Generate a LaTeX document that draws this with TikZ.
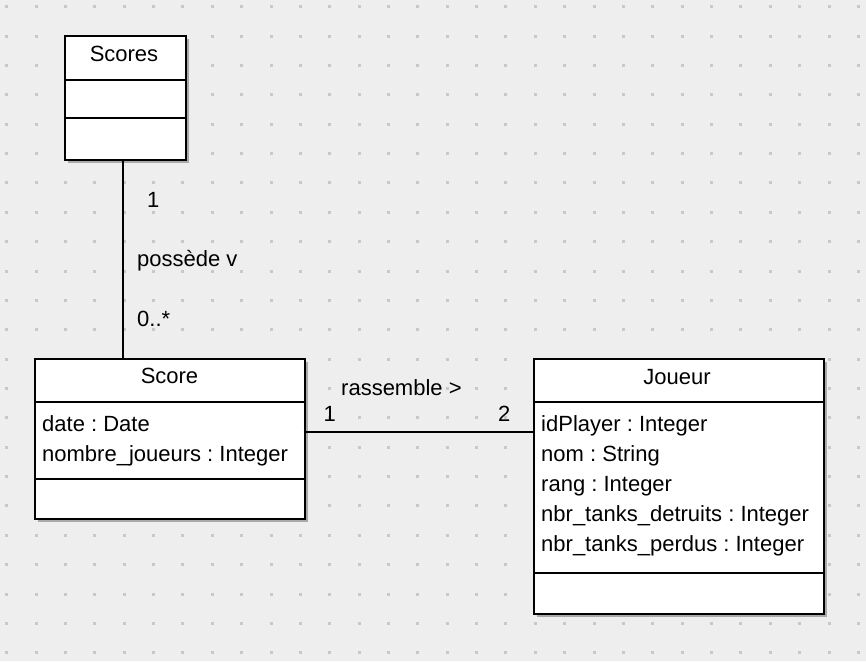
\documentclass[tikz,border=0pt]{standalone}
\usepackage{fontspec}
\setmainfont{Liberation Sans}
\usetikzlibrary{shadows}
\definecolor{bg}{HTML}{EEEEEE}
\definecolor{dotc}{HTML}{C8C8C8}
\frenchspacing
\begin{document}
\begin{tikzpicture}[x=1pt,y=-1pt,
  font=\fontsize{22}{26}\selectfont\frenchspacing,
  classbox/.style={draw=black, line width=2pt, fill=white, inner sep=0pt, anchor=north west,
    drop shadow={shadow xshift=3pt, shadow yshift=-3pt, fill=black!45, opacity=0.7}},
  sepline/.style={line width=2pt},
  txt/.style={inner sep=0pt, anchor=base west},
  ttl/.style={inner sep=0pt, anchor=base},
  conn/.style={line width=2pt},
]
\fill[bg] (0,0) rectangle (866,661);
\useasboundingbox (0,0) rectangle (866,661);
\foreach \i in {0,...,29} \foreach \j in {0,...,22}
  \fill[dotc] ({5.2+29.37*\i},{5.2+29.37*\j}) rectangle ++(3,3);

\node[classbox, minimum width=121pt, minimum height=124pt] (Scores) at (64,35) {};
\node[classbox, minimum width=270pt, minimum height=160pt] (Score) at (34,358) {};
\node[classbox, minimum width=290pt, minimum height=255pt] (Joueur) at (533,358) {};

% connectors
\draw[conn] ([xshift=-2.2pt]Scores.south) -- ([xshift=-2.2pt]Scores.south |- Score.north);
\coordinate (rs) at ([xshift=-2.5pt,yshift=7pt]Score.east);
\draw[conn] (rs) -- (rs -| Joueur.west);

% Scores
\draw[sepline] (Scores.west |- 0,80) -- (Scores.east |- 0,80);
\draw[sepline] (Scores.west |- 0,117.7) -- (Scores.east |- 0,117.7);
\node[ttl] (tScores) at (124,61) {Scores};

% Score
\draw[sepline] (Score.west |- 0,402.3) -- (Score.east |- 0,402.3);
\draw[sepline] (Score.west |- 0,479.3) -- (Score.east |- 0,479.3);
\node[ttl] (tScore) at (169.5,383) {Score};
\node[txt] (a1) at (42,431) {date : Date};
\node[txt] (a2) at (42,461) {nombre\_joueurs : Integer};

% Joueur
\draw[sepline] (Joueur.west |- 0,402.3) -- (Joueur.east |- 0,402.3);
\draw[sepline] (Joueur.west |- 0,572.7) -- (Joueur.east |- 0,572.7);
\node[ttl] (tJoueur) at (677,384) {Joueur};
\node[txt] (b1) at (541,431) {idPlayer : Integer};
\node[txt] (b2) at (541,461) {nom : String};
\node[txt] (b3) at (541,491) {rang : Integer};
\node[txt] (b4) at (541,521.5) {nbr\_tanks\_detruits : Integer};
\node[txt] (b5) at (541,551.5) {nbr\_tanks\_perdus : Integer};

% association labels
\node[txt] (m1) at (147,207.7) {1};
\node[txt] (l1) at (137,266.7) {possède v};
\node[txt] (m2) at (137,326) {0..*};
\node[txt] (l2) at (341,395) {rassemble >};
\node[txt] (m3) at (323.5,421.7) {1};
\node[txt] (m4) at (498,421.7) {2};
\end{tikzpicture}
\end{document}
